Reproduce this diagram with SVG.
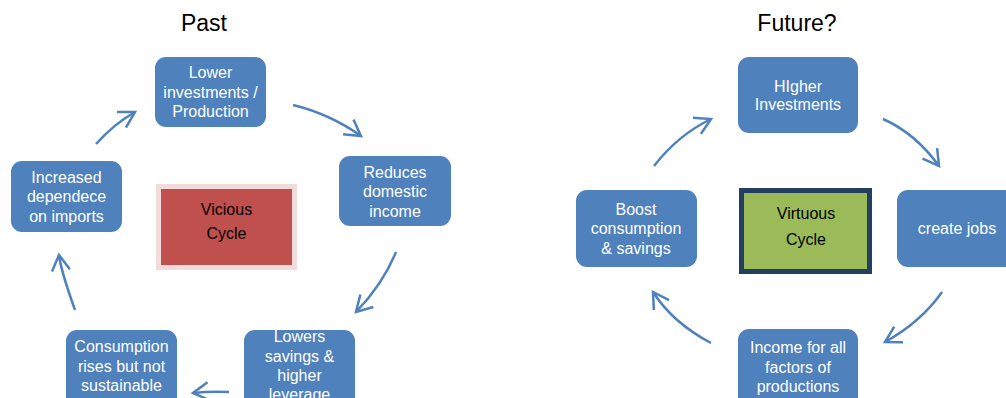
<svg xmlns="http://www.w3.org/2000/svg" width="1006" height="398" viewBox="0 0 1006 398">
  <defs>
    <style>
      .title { font-family: "Liberation Sans", Arial, sans-serif; font-size: 23px; fill: #000; text-anchor: middle; }
      .box { fill: #4f81bd; }
      .lbl { font-family: "Liberation Sans", Arial, sans-serif; font-size: 16px; fill: #fff; text-anchor: middle; }
      .core { font-family: "Liberation Sans", Arial, sans-serif; font-size: 16px; fill: #000; text-anchor: middle; }
      .flow { fill: none; stroke: #4f81bd; stroke-width: 2.5; marker-end: url(#chevron); }
    </style>
    <marker id="chevron" markerUnits="userSpaceOnUse" markerWidth="40" markerHeight="40" refX="0" refY="0" orient="auto" overflow="visible">
      <path d="M -15.6 -9 L 0 0 L -15.6 9" fill="none" stroke="#4f81bd" stroke-width="2.5" stroke-linejoin="miter"/>
    </marker>
  </defs>
  <rect width="1006" height="398" fill="#fff"/>

  <!-- headings -->
  <text class="title" x="204" y="31">Past</text>
  <text class="title" x="797" y="31">Future?</text>

  <!-- vicious cycle (left) -->
  <g id="lower-investments">
    <rect class="box" x="155" y="57" width="111" height="70" rx="11"/>
    <text class="lbl" x="210.5" y="78">Lower</text>
    <text class="lbl" x="210.5" y="97.5">investments /</text>
    <text class="lbl" x="210.5" y="117">Production</text>
  </g>
  <g id="reduces-income">
    <rect class="box" x="339" y="156" width="112" height="70" rx="11"/>
    <text class="lbl" x="395" y="178">Reduces</text>
    <text class="lbl" x="395" y="197">domestic</text>
    <text class="lbl" x="395" y="217">income</text>
  </g>
  <g id="lowers-savings">
    <rect class="box" x="244" y="330" width="111" height="80" rx="11"/>
    <text class="lbl" x="299.5" y="342">Lowers</text>
    <text class="lbl" x="299.5" y="362">savings  &amp;</text>
    <text class="lbl" x="299.5" y="381">higher</text>
    <text class="lbl" x="299.5" y="400">leverage</text>
  </g>
  <g id="consumption-rises">
    <rect class="box" x="66" y="330" width="111" height="80" rx="11"/>
    <text class="lbl" x="121.5" y="352">Consumption</text>
    <text class="lbl" x="121.5" y="372">rises but not</text>
    <text class="lbl" x="121.5" y="391">sustainable</text>
  </g>
  <g id="import-dependence">
    <rect class="box" x="11" y="161" width="111" height="71" rx="11"/>
    <text class="lbl" x="66.5" y="183">Increased</text>
    <text class="lbl" x="66.5" y="202">dependece</text>
    <text class="lbl" x="66.5" y="222">on imports</text>
  </g>
  <g id="vicious-cycle">
    <rect x="158.5" y="186.5" width="136" height="81" fill="#c0504d" stroke="#f2dcdb" stroke-width="5"/>
    <text class="core" x="226.5" y="215">Vicious</text>
    <text class="core" x="226.5" y="239">Cycle</text>
  </g>

  <!-- virtuous cycle (right) -->
  <g id="higher-investments">
    <rect class="box" x="738" y="57" width="120" height="76" rx="11"/>
    <text class="lbl" x="798" y="92">HIgher</text>
    <text class="lbl" x="798" y="110">Investments</text>
  </g>
  <g id="create-jobs">
    <rect class="box" x="897" y="190" width="125" height="77" rx="11"/>
    <text class="lbl" x="957" y="234">create jobs</text>
  </g>
  <g id="income-factors">
    <rect class="box" x="738" y="329" width="120" height="80" rx="11"/>
    <text class="lbl" x="798" y="353">Income for all</text>
    <text class="lbl" x="798" y="373">factors of</text>
    <text class="lbl" x="798" y="392">productions</text>
  </g>
  <g id="boost-consumption">
    <rect class="box" x="576" y="190" width="121" height="77" rx="11"/>
    <text class="lbl" x="636" y="215">Boost</text>
    <text class="lbl" x="636" y="234">consumption</text>
    <text class="lbl" x="636" y="254">&amp; savings</text>
  </g>
  <g id="virtuous-cycle">
    <rect x="741.5" y="190.5" width="128" height="81" fill="#9bbb59" stroke="#243f60" stroke-width="5"/>
    <text class="core" x="806" y="219">Virtuous</text>
    <text class="core" x="806" y="245">Cycle</text>
  </g>

  <!-- connectors -->
  <g id="connectors">
    <path class="flow" d="M96,144 Q114,124 135,112"/>
    <path class="flow" d="M293,105 Q330,114 361,136"/>
    <path class="flow" d="M396,252 Q383,284 356,312"/>
    <path class="flow" d="M229,392 Q211,391 193,393"/>
    <path class="flow" d="M75,310 Q61,271 59,255"/>

    <path class="flow" d="M654,166 Q678,135 711,119"/>
    <path class="flow" d="M883,119 Q915,133 939,166"/>
    <path class="flow" d="M942,292 Q921,322 885,342"/>
    <path class="flow" d="M711,343 Q673,323 653,292"/>
  </g>
</svg>
